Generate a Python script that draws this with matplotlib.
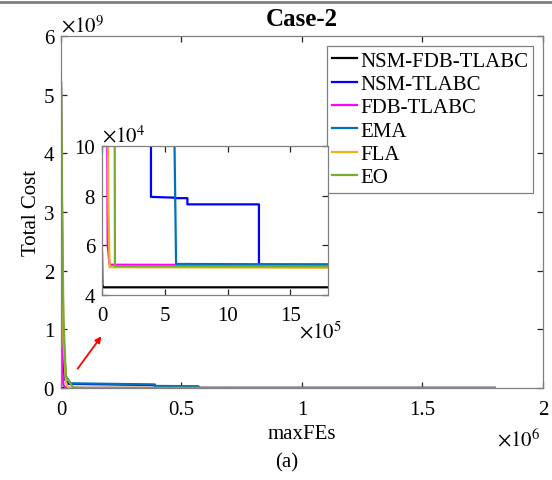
import numpy as np
import matplotlib
matplotlib.use("Agg")
import matplotlib.pyplot as plt
from matplotlib.ticker import FuncFormatter
from matplotlib.lines import Line2D

plt.rcParams['font.family'] = ['Liberation Serif', 'DejaVu Serif']
plt.rcParams['mathtext.fontset'] = 'stix'
plt.rcParams['font.size'] = 15

# Convergence data (FEs, total cost)
algos = ["NSM-FDB-TLABC", "NSM-TLABC", "FDB-TLABC", "EMA", "FLA", "EO"]
colors = ["#000000", "#0000FF", "#FF00FF", "#0072BD", "#EDB120", "#77AC30"]

fes_nsm_fdb = [0, 3e3, 1e4, 1.8e6]
cost_nsm_fdb = [5.7e4, 4.4e4, 4.31e4, 4.31e4]

fes_nsm = [0, 4e3, 8e3, 1.5e4, 3e4, 3.9e5, 3.9e5, 5.8e5, 5.8e5, 6.8e5, 6.8e5, 1.25e6, 1.25e6, 1.8e6]
cost_nsm = [5.1e9, 2.0e9, 6e8, 1.5e8, 7e7, 5e7, 7.95e4, 7.92e4, 7.9e4, 7.9e4, 7.65e4, 7.65e4, 5.22e4, 5.22e4]

fes_fdb = [0, 2e3, 5e3, 1e4, 2e4, 3.5e4, 4.5e4, 6e4, 1.8e6]
cost_fdb = [5.2e9, 1.5e9, 3e8, 5e7, 2e6, 2e5, 6e4, 5.22e4, 5.2e4]

fes_ema = [0, 5e3, 1e4, 2e4, 4e4, 3.9e5, 3.9e5, 5.7e5, 5.75e5, 5.9e5, 1.8e6]
cost_ema = [5.2e9, 2.5e9, 8e8, 2e8, 8e7, 6e7, 3.5e7, 3e7, 1.1e5, 5.25e4, 5.23e4]

fes_fla = [0, 5e3, 1e4, 2e4, 3e4, 4e4, 5e4, 6e4, 1.8e6]
cost_fla = [5.25e9, 2.5e9, 8e8, 1e8, 5e6, 3e5, 8e4, 5.12e4, 5.1e4]

fes_eo = [0, 5e3, 1e4, 2e4, 5e4, 9.8e4, 1.03e5, 1.8e6]
cost_eo = [5.2e9, 3e9, 1.2e9, 2e8, 1e7, 2e5, 5.16e4, 5.15e4]

series = [(fes_nsm_fdb, cost_nsm_fdb), (fes_nsm, cost_nsm), (fes_fdb, cost_fdb),
          (fes_ema, cost_ema), (fes_fla, cost_fla), (fes_eo, cost_eo)]

main_xticks = [0, 0.5e6, 1e6, 1.5e6, 2e6]
main_yticks = [0, 1e9, 2e9, 3e9, 4e9, 5e9, 6e9]
inset_xticks = [0, 5e5, 10e5, 15e5]
inset_yticks = [4e4, 6e4, 8e4, 10e4]

fig = plt.figure(figsize=(5.52, 4.81), dpi=100)
ax = fig.add_axes([0.1105, 0.1913, 0.873, 0.7317])


def style_axes(a):
    for s in a.spines.values():
        s.set_color('#808080')
        s.set_linewidth(0.9)
    a.tick_params(direction='in', top=True, right=True, length=4.5, width=0.9,
                  color='#262626', pad=5)


for (x, y), name, c in zip(series, algos, colors):
    ax.plot(x, y, color=c, lw=1.6, label=name)

ax.set_xlim(0, 2e6)
ax.set_ylim(0, 6e9)
ax.set_xticks(main_xticks)
ax.set_yticks(main_yticks)
ax.xaxis.set_major_formatter(FuncFormatter(lambda v, p: f"{v / 1e6:g}"))
ax.yaxis.set_major_formatter(FuncFormatter(lambda v, p: f"{v / 1e9:g}"))
style_axes(ax)
ax.tick_params(axis='x', pad=9)
ax.set_xlabel("maxFEs", labelpad=3)
ax.set_ylabel("Total Cost", labelpad=2)
ax.set_title("Case-2", fontweight='bold', pad=8)
ax.text(0.0, 1.0, r"$\times10^{9}$", transform=ax.transAxes, ha='left', va='bottom')
ax.text(0.995, -0.115, r"$\times10^{6}$", transform=ax.transAxes, ha='right', va='top')

leg = ax.legend(loc='upper right', bbox_to_anchor=(0.98, 0.972), fancybox=False,
                framealpha=1, edgecolor='#808080', handlelength=1.2,
                handletextpad=0.15, labelspacing=0.18, borderpad=0.25,
                borderaxespad=0)
leg.get_frame().set_linewidth(0.9)

# Inset
axin = fig.add_axes([0.1848, 0.3846, 0.4094, 0.3098])
for (x, y), c in zip(series, colors):
    axin.plot(x, y, color=c, lw=1.6)
axin.set_xlim(0, 1.8e6)
axin.set_ylim(4e4, 10e4)
axin.set_xticks(inset_xticks)
axin.set_yticks(inset_yticks)
axin.xaxis.set_major_formatter(FuncFormatter(lambda v, p: f"{v / 1e5:g}"))
axin.yaxis.set_major_formatter(FuncFormatter(lambda v, p: f"{v / 1e4:g}"))
style_axes(axin)
axin.tick_params(axis='x', pad=8)
axin.text(0.0, 0.995, r"$\times10^{4}$", transform=axin.transAxes, ha='left', va='bottom')
axin.text(0.87, -0.17, r"$\times10^{5}$", transform=axin.transAxes, ha='left', va='top')

# Arrow pointing to the inset
fig.add_artist(matplotlib.patches.FancyArrowPatch(
    (76 / 552, 1 - 372 / 481), (103 / 552, 1 - 335 / 481),
    transform=fig.transFigure, arrowstyle='-|>', mutation_scale=9,
    color='red', lw=1.3))

fig.text(287 / 552, 1 - 463 / 481, "(a)", ha='center', va='center')
fig.add_artist(Line2D([0, 1], [1 - 3 / 481, 1 - 3 / 481], transform=fig.transFigure,
                      color='#808080', lw=2))

fig.savefig("out.png", dpi=100)
